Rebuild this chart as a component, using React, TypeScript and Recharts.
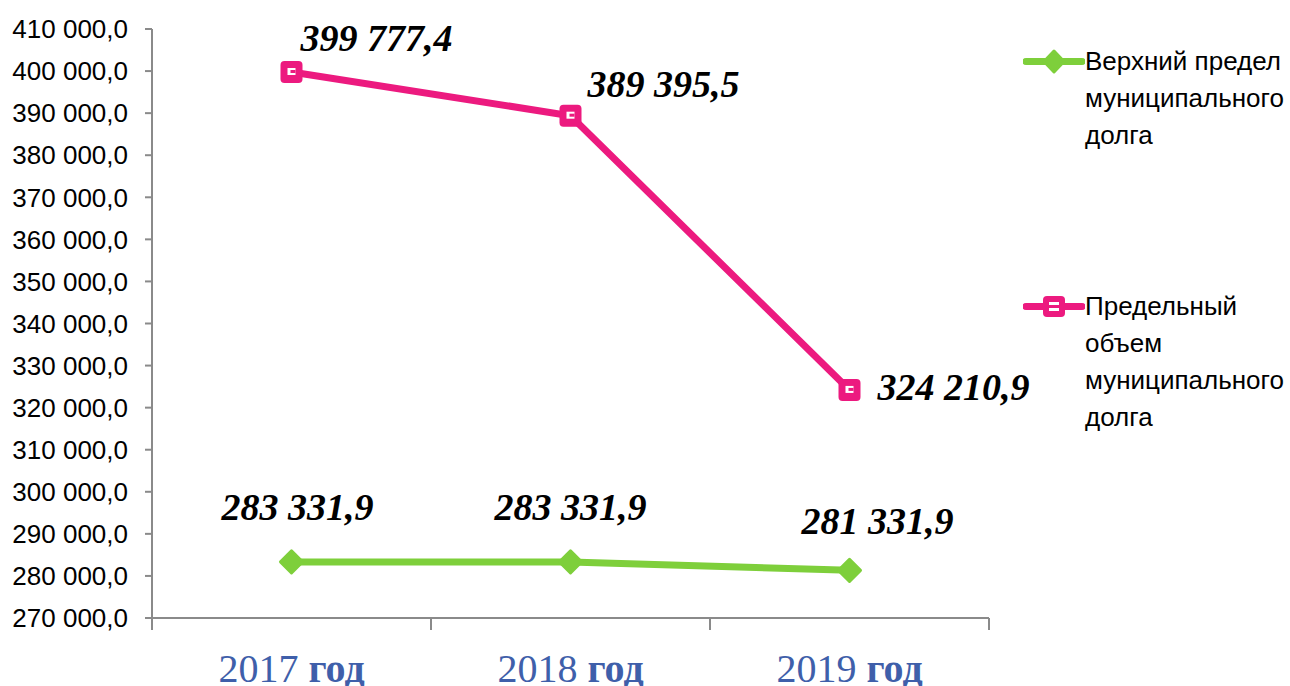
import React from 'react';
import { LineChart, Line, XAxis, YAxis } from 'recharts';

const years = ['2017', '2018', '2019'];
const upperLimit = [283331.9, 283331.9, 281331.9];
const maxVolume = [399777.4, 389395.5, 324210.9];
const yTicks = [270000, 280000, 290000, 300000, 310000, 320000, 330000, 340000, 350000, 360000, 370000, 380000, 390000, 400000, 410000];

const data = years.map((year, i) => ({ year, upper: upperLimit[i], volume: maxVolume[i] }));

const W = 1290;
const H = 686;
const margin = { top: 29, right: 301, bottom: 0, left: 0 };
const Y_AXIS_W = 152;
const X_AXIS_H = 68;
const band = (W - margin.left - margin.right - Y_AXIS_W) / years.length;

const PINK = '#EC1A7F';
const GREEN = '#7ECF3B';
const AXIS = '#8a8a8a';
const BLUE = '#3F5FAA';

// label offsets relative to each point
const volumeLabelPos = [
  { dx: 9, dy: -21 },
  { dx: 17, dy: -19 },
  { dx: 28, dy: 10 },
];
const upperLabelPos = [
  { dx: 6, dy: -42 },
  { dx: 0, dy: -42 },
  { dx: 28, dy: -36 },
];

const fmt = (v: number) => {
  const [int, dec] = v.toFixed(1).split('.');
  return int.replace(/\B(?=(\d{3})+(?!\d))/g, ' ') + ',' + dec;
};

const labelStyle = {
  fontFamily: '"Liberation Serif", "Times New Roman", serif',
  fontWeight: 700,
  fontStyle: 'italic',
  fontSize: 38,
  fill: '#000',
};

const VolumeLabel = (props: any) => {
  const { x, y, value, index } = props;
  const p = volumeLabelPos[index];
  return (
    <text x={x + p.dx} y={y + p.dy} textAnchor="start" style={labelStyle}>
      {fmt(value)}
    </text>
  );
};

const UpperLabel = (props: any) => {
  const { x, y, value, index } = props;
  const p = upperLabelPos[index];
  return (
    <text x={x + p.dx} y={y + p.dy} textAnchor="middle" style={labelStyle}>
      {fmt(value)}
    </text>
  );
};

const SquareDot = (props: any) => {
  const { cx, cy, index } = props;
  if (cx == null || cy == null) return null;
  return (
    <g key={`sq-${index}`}>
      <rect x={cx - 11} y={cy - 11} width={22} height={22} rx={4} fill={PINK} />
      <rect x={cx - 4} y={cy - 4} width={8} height={7} fill="#fff" />
      <rect x={cx - 1} y={cy - 2} width={5} height={3} fill={PINK} />
    </g>
  );
};

const DiamondDot = (props: any) => {
  const { cx, cy, index } = props;
  if (cx == null || cy == null) return null;
  return (
    <path
      key={`dm-${index}`}
      d={`M${cx},${cy - 11} L${cx + 11},${cy} L${cx},${cy + 11} L${cx - 11},${cy} Z`}
      fill={GREEN}
      stroke={GREEN}
      strokeWidth={3}
      strokeLinejoin="round"
    />
  );
};

const XTick = (props: any) => {
  const { x, y, payload, index } = props;
  return (
    <g>
      <line x1={x - band / 2} y1={y} x2={x - band / 2} y2={y + 12} stroke={AXIS} strokeWidth={2} />
      {index === years.length - 1 && (
        <line x1={x + band / 2} y1={y} x2={x + band / 2} y2={y + 12} stroke={AXIS} strokeWidth={2} />
      )}
      <text
        x={x}
        y={y + 64}
        textAnchor="middle"
        fill={BLUE}
        style={{ fontFamily: '"Liberation Serif", "Times New Roman", serif', fontSize: 40 }}
      >
        {payload.value + ' '}
        <tspan fontWeight={700}>год</tspan>
      </text>
    </g>
  );
};

const legendItems = [
  { key: 'upper', color: GREEN, lines: ['Верхний предел', 'муниципального', 'долга'], top: 43, shape: 'diamond' },
  { key: 'volume', color: PINK, lines: ['Предельный', 'объем', 'муниципального', 'долга'], top: 288, shape: 'square' },
];

const ChartLegend = () => (
  <div style={{ position: 'absolute', left: 1020, top: 0, width: 270, height: 460 }}>
    {legendItems.map((it) => (
      <div key={it.key} style={{ position: 'absolute', left: 0, top: it.top }}>
        <svg width={62} height={37} style={{ position: 'absolute', left: 3, top: 0 }}>
          <line x1={3} y1={18.5} x2={59} y2={18.5} stroke={it.color} strokeWidth={7} strokeLinecap="round" />
          {it.shape === 'diamond' ? (
            <path d="M31,8 L41,18.5 L31,29 L21,18.5 Z" fill={it.color} stroke={it.color} strokeWidth={3} strokeLinejoin="round" />
          ) : (
            <g>
              <rect x={20} y={8} width={22} height={21} rx={4} fill={it.color} />
              <rect x={26} y={14} width={10} height={3} fill="#fff" />
              <rect x={26} y={20} width={10} height={3} fill="#fff" />
            </g>
          )}
        </svg>
        <div
          style={{
            position: 'absolute',
            left: 65,
            top: 0,
            fontFamily: '"Liberation Sans", Arial, sans-serif',
            fontSize: 26,
            lineHeight: '37px',
            color: '#000',
            whiteSpace: 'nowrap',
          }}
        >
          {it.lines.map((l) => (
            <div key={l}>{l}</div>
          ))}
        </div>
      </div>
    ))}
  </div>
);

export default function App() {
  return (
    <div style={{ position: 'absolute', left: 0, top: 0, width: W, height: H, background: '#fff' }}>
      <style>{'body{margin:0}'}</style>
      <LineChart width={W} height={H} data={data} margin={margin}>
        <XAxis
          dataKey="year"
          height={X_AXIS_H}
          padding={{ left: band / 2, right: band / 2 }}
          axisLine={{ stroke: AXIS, strokeWidth: 2 }}
          tickLine={false}
          tickSize={0}
          tickMargin={0}
          tick={<XTick />}
          interval={0}
        />
        <YAxis
          width={Y_AXIS_W}
          domain={[270000, 410000]}
          ticks={yTicks}
          interval={0}
          tickFormatter={fmt}
          axisLine={{ stroke: AXIS, strokeWidth: 2 }}
          tickLine={{ stroke: AXIS, strokeWidth: 2 }}
          tickSize={7}
          tickMargin={17}
          tick={{ fill: '#000', fontSize: 26, fontFamily: '"Liberation Sans", Arial, sans-serif' }}
        />
        <Line
          dataKey="upper"
          name="Верхний предел муниципального долга"
          stroke={GREEN}
          strokeWidth={7}
          dot={<DiamondDot />}
          activeDot={false}
          label={<UpperLabel />}
          isAnimationActive={false}
        />
        <Line
          dataKey="volume"
          name="Предельный объем муниципального долга"
          stroke={PINK}
          strokeWidth={7}
          dot={<SquareDot />}
          activeDot={false}
          label={<VolumeLabel />}
          isAnimationActive={false}
        />
      </LineChart>
      <ChartLegend />
    </div>
  );
}
